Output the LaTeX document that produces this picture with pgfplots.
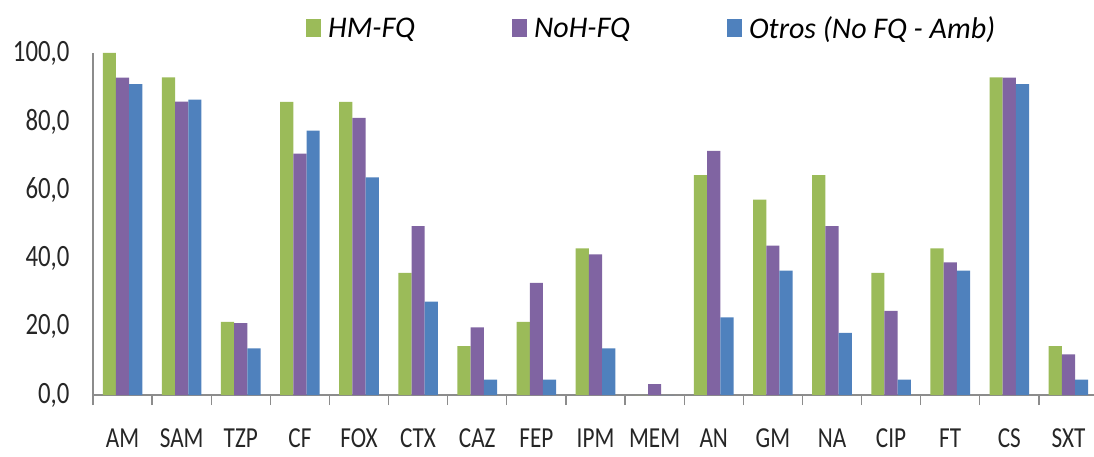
\documentclass[border=0pt]{standalone}
\usepackage{fontspec}
\setmainfont{Carlito}
\newfontfamily\tickfont{Carlito}[FakeStretch=0.8]
\usepackage{pgfplots}
\pgfplotsset{compat=1.18}
\definecolor{cgreen}{HTML}{9BBB59}
\definecolor{cpurple}{HTML}{8064A2}
\definecolor{cblue}{HTML}{4F81BD}
\definecolor{caxis}{HTML}{8C8C8C}
\pgfplotsset{sqlegend/.style={legend image code/.code={\draw[##1,draw=none] (0pt,-9pt) rectangle (15pt,9pt);}}}
\begin{document}
\begin{tikzpicture}
\useasboundingbox (0,0) rectangle (1094pt,456pt);
\begin{axis}[
  at={(93pt,61pt)}, anchor=south west,
  scale only axis, width=1005pt, height=342pt,
  xmin=-0.5, xmax=16.5, ymin=0, ymax=100,
  ybar=0pt, bar width=13.2pt,
  axis x line=bottom, axis y line=left,
  axis line style={-, caxis, line width=1.3pt},
  tick align=outside, major tick length=10pt,
  tick style={caxis, line width=1.3pt},
  xtick={-0.5,0.5,1.5,2.5,3.5,4.5,5.5,6.5,7.5,8.5,9.5,10.5,11.5,12.5,13.5,14.5,15.5,16.5},
  xticklabels={AM,SAM,TZP,CF,FOX,CTX,CAZ,FEP,IPM,MEM,AN,GM,NA,CIP,FT,CS,SXT,{}},
  xticklabel style={anchor=base, xshift=29.56pt, yshift=-42pt, font=\tickfont\fontsize{29}{29}\selectfont},
  ytick={0,20,40,60,80,100},
  ytick style={draw=none},
  extra y ticks={0,100},
  extra y tick labels={},
  extra y tick style={tick style={draw=caxis, line width=1.3pt}},
  scaled y ticks=false,
  yticklabel style={/pgf/number format/fixed, /pgf/number format/fixed zerofill,
    /pgf/number format/precision=1, /pgf/number format/use comma,
    /pgf/number format/assume math mode=true, anchor=east, xshift=-10pt},
  ticklabel style={font=\tickfont\fontsize{31}{31}\selectfont, text=black!85},
  legend style={draw=none, fill=none, at={(0.212,1.073)}, anchor=west,
    inner sep=0pt, outer sep=0pt, nodes={inner sep=0pt},
    font=\fontsize{30}{30}\selectfont\itshape,
    /tikz/every even column/.append style={column sep=97pt},
    /tikz/every odd column/.append style={column sep=7pt}},
  legend columns=-1,
]
\addplot[fill=cgreen, draw=none, sqlegend] coordinates {
(0,100) (1,92.9) (2,21.4) (3,85.7) (4,85.7) (5,35.7) (6,14.3) (7,21.4) (8,42.9)
(9,0) (10,64.3) (11,57.1) (12,64.3) (13,35.7) (14,42.9) (15,92.9) (16,14.3)};
\addplot[fill=cpurple, draw=none, sqlegend] coordinates {
(0,92.8) (1,85.8) (2,21.0) (3,70.6) (4,81.0) (5,49.4) (6,19.8) (7,32.8) (8,41.1)
(9,3.2) (10,71.4) (11,43.7) (12,49.4) (13,24.6) (14,38.8) (15,92.8) (16,11.9)};
\addplot[fill=cblue, draw=none, sqlegend] coordinates {
(0,90.9) (1,86.4) (2,13.6) (3,77.3) (4,63.6) (5,27.3) (6,4.5) (7,4.5) (8,13.6)
(9,0) (10,22.7) (11,36.4) (12,18.2) (13,4.5) (14,36.4) (15,90.9) (16,4.5)};
\legend{HM-FQ, NoH-FQ, Otros (No FQ - Amb)}
\end{axis}
\end{tikzpicture}
\end{document}
